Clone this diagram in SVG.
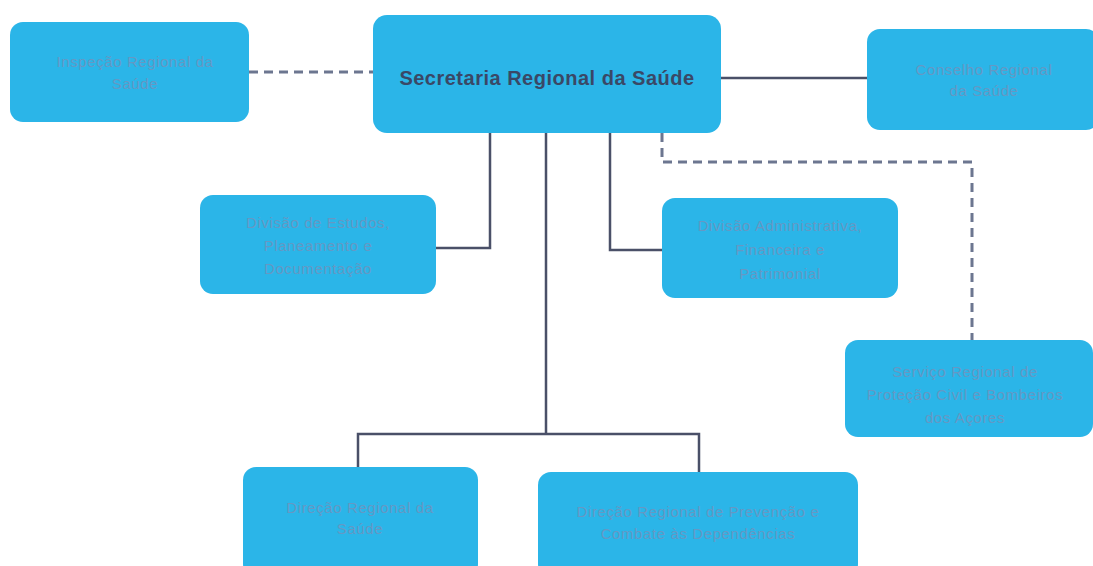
<svg xmlns="http://www.w3.org/2000/svg" width="1093" height="566" viewBox="0 0 1093 566">
<style>
.box{fill:#2bb5e8;}
.t{font-family:"Liberation Sans",Arial,sans-serif;font-size:15px;letter-spacing:0.6px;fill:#6598c4;text-anchor:middle;}
.title{font-family:"Liberation Sans",Arial,sans-serif;font-size:20px;letter-spacing:0.5px;font-weight:bold;fill:#3a4866;text-anchor:middle;}
.solid{fill:none;stroke:#4a5068;stroke-width:2.5;}
.dash{fill:none;stroke:#6c7690;stroke-width:3;stroke-dasharray:9 6;}
</style>
<rect width="1093" height="566" fill="#ffffff"/>
<g id="connectors">
<path class="dash" d="M249 72 H373"/>
<path class="solid" d="M721 78 H867"/>
<path class="solid" d="M490 133 V248 H436"/>
<path class="solid" d="M610 133 V250 H662"/>
<path class="solid" d="M546 133 V434"/>
<path class="solid" d="M358 467 V434 H699 V472"/>
<path class="dash" d="M662 133 V162 H972 V340"/>
</g>
<g id="inspecao">
<rect class="box" x="10" y="22" width="239" height="100" rx="13"/>
<text class="t" x="135" y="67">Inspeção Regional da</text>
<text class="t" x="135" y="89">Saúde</text>
</g>
<g id="secretaria">
<rect class="box" x="373" y="15" width="348" height="118" rx="14"/>
<text class="title" x="547" y="85">Secretaria Regional da Saúde</text>
</g>
<g id="conselho">
<rect class="box" x="867" y="29" width="232" height="101" rx="13"/>
<text class="t" x="984" y="75">Conselho Regional</text>
<text class="t" x="984" y="96">da Saúde</text>
</g>
<g id="div-estudos">
<rect class="box" x="200" y="195" width="236" height="99" rx="13"/>
<text class="t" x="318" y="228">Divisão de Estudos,</text>
<text class="t" x="318" y="251">Planeamento e</text>
<text class="t" x="318" y="274">Documentação</text>
</g>
<g id="div-admin">
<rect class="box" x="662" y="198" width="236" height="100" rx="13"/>
<text class="t" x="780" y="231">Divisão Administrativa,</text>
<text class="t" x="780" y="255">Financeira e</text>
<text class="t" x="780" y="279">Patrimonial</text>
</g>
<g id="servico">
<rect class="box" x="845" y="340" width="248" height="97" rx="13"/>
<text class="t" x="965" y="377">Serviço Regional de</text>
<text class="t" x="965" y="400">Proteção Civil e Bombeiros</text>
<text class="t" x="965" y="423">dos Açores</text>
</g>
<g id="dir-saude">
<rect class="box" x="243" y="467" width="235" height="110" rx="13"/>
<text class="t" x="360" y="513">Direção Regional da</text>
<text class="t" x="360" y="534">Saúde</text>
</g>
<g id="dir-prevencao">
<rect class="box" x="538" y="472" width="320" height="105" rx="13"/>
<text class="t" x="698" y="517">Direção Regional de Prevenção e</text>
<text class="t" x="698" y="539">Combate às Dependências</text>
</g>
</svg>
